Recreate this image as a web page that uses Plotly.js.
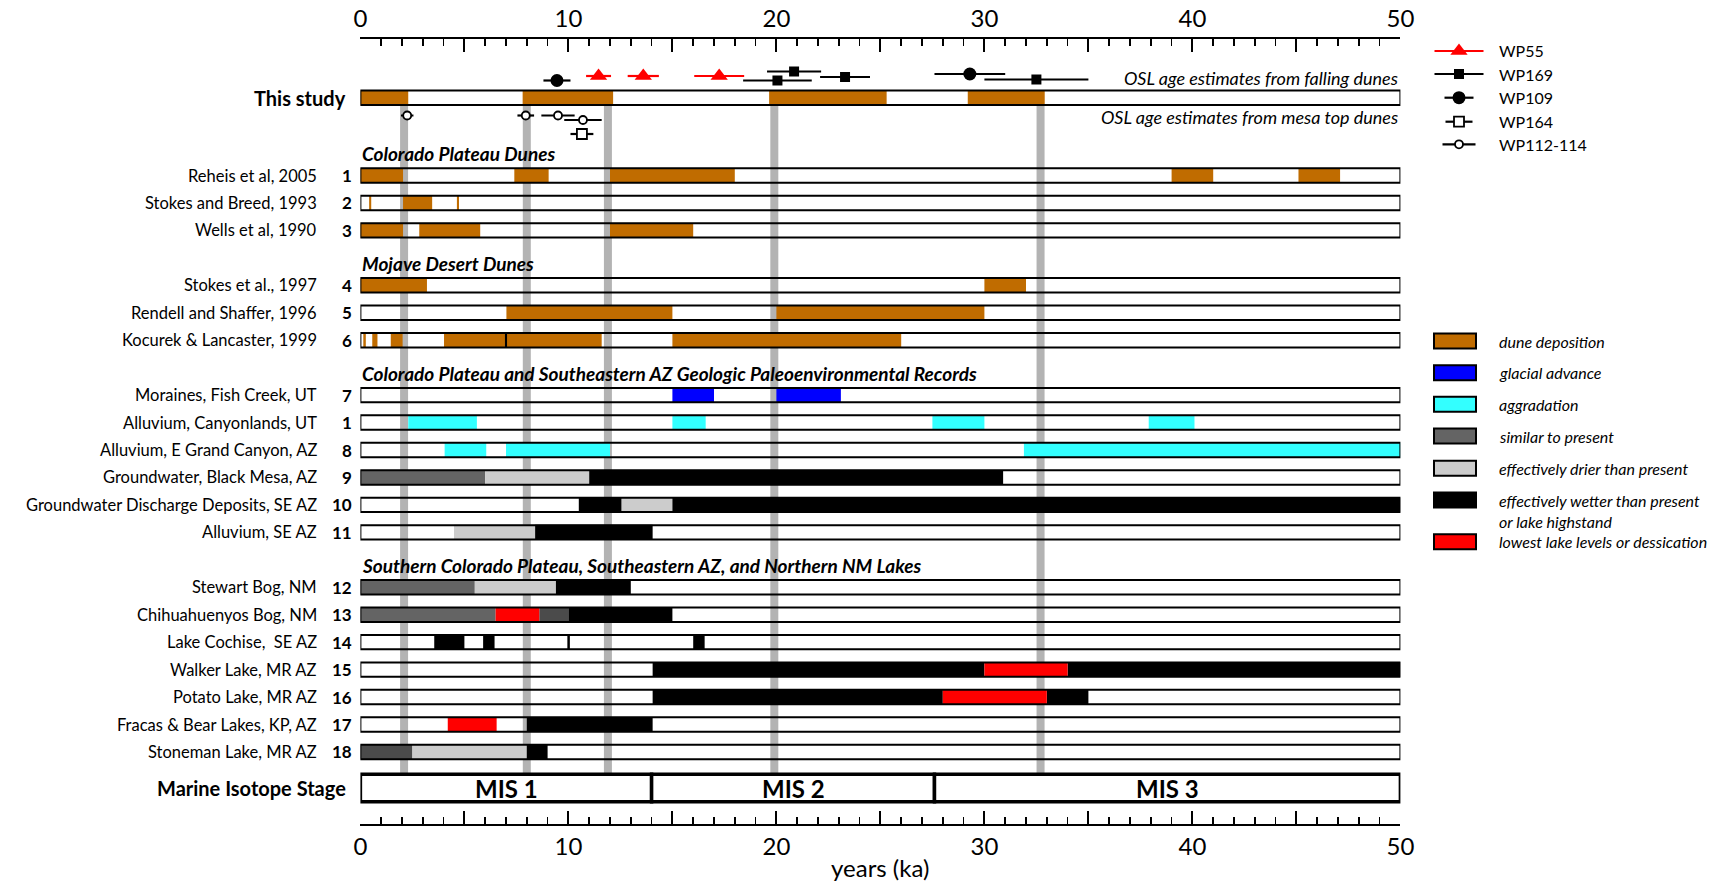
<!DOCTYPE html>
<html>
<head>
<meta charset="utf-8">
<script src="https://cdn.plot.ly/plotly-3.0.1.min.js"></script>
<style>
  html, body { margin: 0; padding: 0; background: #ffffff; }
  #chart { width: 1711px; height: 881px; }
</style>
</head>
<body>
<div id="chart"></div>
<script>
// ---------------- records, grouped by region ----------------
const groupTitles = [
  'Colorado Plateau Dunes',
  'Mojave Desert Dunes',
  'Colorado Plateau and Southeastern AZ Geologic Paleoenvironmental Records',
  'Southern Colorado Plateau, Southeastern AZ, and Northern NM Lakes'
];
const groupSizes = [3, 3, 6, 7];

const recordNames = [
  'Reheis et al, 2005', 'Stokes and Breed, 1993', 'Wells et al, 1990',
  'Stokes et al., 1997', 'Rendell and Shaffer, 1996', 'Kocurek & Lancaster, 1999',
  'Moraines, Fish Creek, UT', 'Alluvium, Canyonlands, UT', 'Alluvium, E Grand Canyon, AZ',
  'Groundwater, Black Mesa, AZ', 'Groundwater Discharge Deposits, SE AZ', 'Alluvium, SE AZ',
  'Stewart Bog, NM', 'Chihuahuenyos Bog, NM', 'Lake Cochise,  SE AZ', 'Walker Lake, MR AZ',
  'Potato Lake, MR AZ', 'Fracas & Bear Lakes, KP, AZ', 'Stoneman Lake, MR AZ'
];
const recordRefs = ['1', '2', '3', '4', '5', '6', '7', '1', '8', '9', '10', '11',
                    '12', '13', '14', '15', '16', '17', '18'];

// dated intervals: [start ka, end ka, kind]
const reheis2005 = [[0, 2.05, 'dune'], [7.4, 9.05, 'dune'], [12, 18, 'dune'], [39, 41, 'dune'], [45.1, 47.1, 'dune']];
const stokesBreed1993 = [[0.42, 0.52, 'dune'], [2.05, 3.45, 'dune'], [4.64, 4.74, 'dune']];
const wells1990 = [[0, 2.05, 'dune'], [2.83, 5.76, 'dune'], [12, 16, 'dune']];
const stokes1997 = [[0, 3.2, 'dune'], [30, 32, 'dune']];
const rendellShaffer1996 = [[7.02, 15, 'dune'], [20, 30, 'dune']];
const kocurekLancaster1999 = [[0.14, 0.26, 'dune'], [0.57, 0.82, 'dune'], [1.46, 2.03, 'dune'], [4.02, 11.6, 'dune'], [6.95, 7.05, 'contact'], [15, 26, 'dune']];
const fishCreekMoraines = [[15, 17, 'glacial'], [20, 23.1, 'glacial']];
const canyonlandsAlluvium = [[2.3, 5.6, 'aggradation'], [15, 16.6, 'aggradation'], [27.5, 30, 'aggradation'], [37.9, 40.1, 'aggradation']];
const grandCanyonAlluvium = [[4.05, 6.05, 'aggradation'], [7, 12, 'aggradation'], [31.9, 50, 'aggradation']];
const blackMesaGroundwater = [[0, 6, 'similar'], [6, 11, 'drier'], [11, 30.9, 'wetter']];
const seAzDischarge = [[10.5, 12.55, 'wetter'], [12.55, 15, 'drier'], [15, 50, 'wetter']];
const seAzAlluvium = [[4.5, 8.4, 'drier'], [8.4, 14.05, 'wetter']];
const stewartBog = [[0, 5.5, 'similar'], [5.5, 9.4, 'drier'], [9.4, 13, 'wetter']];
const chihuahuenyosBog = [[0, 6.5, 'similar'], [6.5, 8.6, 'lowest'], [8.6, 10, 'similarDark'], [10, 15, 'wetter']];
const lakeCochise = [[3.55, 5, 'wetter'], [5.9, 6.45, 'wetter'], [9.95, 10.07, 'wetter'], [16, 16.55, 'wetter']];
const walkerLake = [[14.05, 30, 'wetter'], [30, 34, 'lowest'], [34, 50, 'wetter']];
const potatoLake = [[14.05, 28, 'wetter'], [28, 33, 'lowest'], [33, 35, 'wetter']];
const fracasBearLakes = [[4.2, 6.55, 'lowest'], [8, 14.05, 'wetter']];
const stonemanLake = [[0, 2.5, 'similarDark'], [2.5, 8, 'drier'], [8, 9, 'wetter']];

const recordIntervals = [
  reheis2005, stokesBreed1993, wells1990,
  stokes1997, rendellShaffer1996, kocurekLancaster1999,
  fishCreekMoraines, canyonlandsAlluvium, grandCanyonAlluvium,
  blackMesaGroundwater, seAzDischarge, seAzAlluvium,
  stewartBog, chihuahuenyosBog, lakeCochise, walkerLake,
  potatoLake, fracasBearLakes, stonemanLake
];

// dune deposition from this study (ka)
const thisStudyDunes = [[0, 2.3], [7.8, 12.15], [19.65, 25.3], [29.2, 32.9]];
// episode markers carried down through all records (ka)
const episodeAges = [2.1, 8.0, 11.9, 19.9, 32.7];

// marine isotope stages
const misLabels = ['MIS 1', 'MIS 2', 'MIS 3'];
const misBounds = [0, 14, 27.6, 50];

// OSL ages and 1-sigma errors (ka)
const wp55Age = [11.45, 13.6, 17.25];
const wp55Err = [0.6, 0.75, 1.2];
const wp169Age = [20.85, 20.05, 23.3, 32.5];
const wp169Err = [1.3, 1.65, 1.2, 2.5];
const wp109Age = [9.45, 29.3];
const wp109Err = [0.65, 1.7];
const wp164Age = [10.65];
const wp164Err = [0.55];
const wp112Age = [2.25, 7.95, 9.5, 10.7];
const wp112Err = [0.3, 0.4, 0.8, 0.9];

// ---------------- page geometry ----------------
const W = 1711, H = 881;
const FONT = 'Lato, "Open Sans", sans-serif';
const X0PX = 360.4, X1PX = 1400.4;          // pixel span of the 0–50 ka scale
const ROW0PX = 175.5, PITCH = 27.45;        // first record row and row pitch (px)
const toSlot = p => (p - ROW0PX) / PITCH;
const pw = v => v / W;                      // pixel -> paper (horizontal)
const ph = v => 1 - v / H;                  // pixel -> paper (vertical)

// vertical lanes (px) that keep overlapping OSL ages apart
const wp55Lane = [76, 76, 76];
const wp169Lane = [71.5, 80.5, 77, 79.5];
const wp109Lane = [80.5, 74];
const wp164Lane = [134];
const wp112Lane = [115.5, 115.5, 115.5, 120];

const kinds = {
  dune:        { color: '#c06c00', label: 'dune deposition' },
  glacial:     { color: '#0000ff', label: 'glacial advance' },
  aggradation: { color: '#33ffff', label: 'aggradation' },
  similar:     { color: '#646464', label: 'similar to present' },
  similarDark: { color: '#4b4b4b' },
  drier:       { color: '#cccccc', label: 'effectively drier than present' },
  wetter:      { color: '#000000', label: 'effectively wetter than present<br>or lake highstand' },
  lowest:      { color: '#ff0000', label: 'lowest lake levels or dessication' },
  contact:     { color: '#000000' }
};
const legendKinds = ['dune', 'glacial', 'aggradation', 'similar', 'drier', 'wetter', 'lowest'];
const legendKindY = [341, 372.7, 404.3, 436, 468.3, 500, 541.7];

// ---------------- row positions ----------------
const recordSlot = [], headerSlot = [];
let s = 0;
groupSizes.forEach((n, g) => {
  if (g > 0) s += 1;
  headerSlot.push(s - 0.8);
  for (let i = 0; i < n; i++) { recordSlot.push(s); s += 1; }
});
const thisStudySlot = toSlot(97.7);
const misSlot = toSlot(788);
const ROW_H = 14.4 / PITCH;
const MIS_H = 27.5 / PITCH;

// ---------------- traces ----------------
const traces = [];
const barKinds = ['dune', 'glacial', 'aggradation', 'similar', 'similarDark', 'drier', 'wetter', 'lowest', 'contact'];
barKinds.forEach(k => {
  const y = [], base = [], len = [];
  if (k === 'dune') {
    thisStudyDunes.forEach(([a, b]) => { y.push(thisStudySlot); base.push(a); len.push(b - a); });
  }
  recordIntervals.forEach((iv, i) => iv.forEach(([a, b, kind]) => {
    if (kind === k) { y.push(recordSlot[i]); base.push(a); len.push(b - a); }
  }));
  traces.push({
    type: 'bar', orientation: 'h', y: y, x: len, base: base, width: ROW_H + 0.6 / PITCH,
    marker: { color: kinds[k].color, line: { width: 0 } },
    showlegend: false, hoverinfo: 'skip'
  });
});

// record outlines
const allSlots = [thisStudySlot].concat(recordSlot);
traces.push({
  type: 'bar', orientation: 'h', y: allSlots, base: allSlots.map(() => misBounds[0]),
  x: allSlots.map(() => misBounds[3] - misBounds[0]), width: ROW_H,
  marker: { color: 'rgba(0,0,0,0)', line: { color: '#000', width: 2 } },
  showlegend: false, hoverinfo: 'skip'
});

// marine isotope stage bar
traces.push({
  type: 'bar', orientation: 'h', y: misLabels.map(() => misSlot),
  base: misBounds.slice(0, 3), x: misBounds.slice(1).map((b, i) => b - misBounds[i]),
  width: MIS_H,
  marker: { color: '#ffffff', line: { color: '#000', width: 3.5 } },
  showlegend: false, hoverinfo: 'skip'
});

// OSL ages
const oslStyles = [
  { name: 'WP55',      age: wp55Age,  err: wp55Err,  lane: wp55Lane,  color: '#ff0000', symbol: 'triangle-up', size: 15, fill: '#ff0000', lw: 0,   half: 24.5 },
  { name: 'WP169',     age: wp169Age, err: wp169Err, lane: wp169Lane, color: '#000000', symbol: 'square',      size: 10, fill: '#000000', lw: 0,   half: 24.5 },
  { name: 'WP109',     age: wp109Age, err: wp109Err, lane: wp109Lane, color: '#000000', symbol: 'circle',      size: 13, fill: '#000000', lw: 0,   half: 14.5 },
  { name: 'WP164',     age: wp164Age, err: wp164Err, lane: wp164Lane, color: '#000000', symbol: 'square',      size: 10, fill: '#ffffff', lw: 1.8, half: 13.5 },
  { name: 'WP112-114', age: wp112Age, err: wp112Err, lane: wp112Lane, color: '#000000', symbol: 'circle',      size: 8,  fill: '#ffffff', lw: 1.8, half: 16.5 }
];
const legendSampleX = 1459, legendTextX = 1497;
const legendSampleY = [51, 74, 97.7, 121.7, 144.3];

oslStyles.forEach((st, i) => {
  const marker = { symbol: st.symbol, size: st.size, color: st.fill, line: { color: st.color, width: st.lw } };
  traces.push({
    type: 'scatter', mode: 'markers', name: st.name,
    x: st.age, y: st.lane.map(toSlot),
    error_x: { type: 'data', array: st.err, symmetric: true, color: st.color, thickness: 2.2, width: 0 },
    marker: marker, showlegend: false, hoverinfo: 'skip', cliponaxis: false
  });
  // key sample
  traces.push({
    type: 'scatter', mode: 'markers', xaxis: 'x3', yaxis: 'y3',
    x: [legendSampleX], y: [legendSampleY[i]],
    error_x: { type: 'data', array: [st.half], symmetric: true, color: st.color, thickness: 2.2, width: 0 },
    marker: marker, showlegend: false, hoverinfo: 'skip', cliponaxis: false
  });
});

// keeps the upper scale in place
traces.push({ type: 'scatter', x: [], y: [], xaxis: 'x2', yaxis: 'y', showlegend: false, hoverinfo: 'skip' });

// ---------------- shapes ----------------
const shapes = episodeAges.map(a => ({
  type: 'line', xref: 'x', yref: 'y', x0: a, x1: a,
  y0: toSlot(106), y1: toSlot(773),
  line: { color: '#b3b3b3', width: 8 }, layer: 'below'
}));
legendKinds.forEach((k, i) => {
  shapes.push({
    type: 'rect', xref: 'paper', yref: 'paper',
    x0: pw(1434), x1: pw(1476), y0: ph(legendKindY[i] - 7.5), y1: ph(legendKindY[i] + 7.5),
    fillcolor: kinds[k].color, line: { color: '#000', width: 2 }
  });
});

// ---------------- text ----------------
const annotations = [];
const txt = o => annotations.push(Object.assign({ showarrow: false }, o, {
  font: Object.assign({ family: FONT, size: 16.5, color: '#000' }, o.font || {})
}));

recordNames.forEach((n, i) => {
  txt({ text: n, xref: 'paper', yref: 'y', x: pw(319), y: recordSlot[i], xanchor: 'right', yanchor: 'middle' });
  txt({ text: '<b>' + recordRefs[i] + '</b>', xref: 'paper', yref: 'y', x: pw(354), y: recordSlot[i], xanchor: 'right', yanchor: 'middle', font: { size: 17 } });
});
groupTitles.forEach((t, g) => {
  txt({ text: '<b><i>' + t + '</i></b>', xref: 'x', yref: 'y', x: 0, y: headerSlot[g], xanchor: 'left', yanchor: 'middle', font: { size: 19 } });
});
txt({ text: '<b>This study</b>', xref: 'paper', yref: 'y', x: pw(348), y: thisStudySlot, xanchor: 'right', yanchor: 'middle', font: { size: 20 } });
txt({ text: '<b>Marine Isotope Stage</b>', xref: 'paper', yref: 'y', x: pw(348), y: misSlot, xanchor: 'right', yanchor: 'middle', font: { size: 20 } });
txt({ text: '<i>OSL age estimates from falling dunes</i>', xref: 'x', yref: 'y', x: 50, y: toSlot(78), xanchor: 'right', yanchor: 'middle', font: { size: 18 } });
txt({ text: '<i>OSL age estimates from mesa top dunes</i>', xref: 'x', yref: 'y', x: 50, y: toSlot(117), xanchor: 'right', yanchor: 'middle', font: { size: 18 } });

misLabels.forEach((m, i) => {
  txt({ text: '<b>' + m + '</b>', xref: 'x', yref: 'y', x: (misBounds[i] + misBounds[i + 1]) / 2, y: misSlot, xanchor: 'center', yanchor: 'middle', font: { size: 24 } });
});
txt({ text: 'years (ka)', xref: 'x', yref: 'paper', x: 25, y: ph(867), xanchor: 'center', yanchor: 'middle', font: { size: 24 } });

oslStyles.forEach((st, i) => {
  txt({ text: st.name, xref: 'paper', yref: 'paper', x: pw(legendTextX), y: ph(legendSampleY[i]), xanchor: 'left', yanchor: 'middle', font: { size: 16 } });
});
legendKinds.forEach((k, i) => {
  const two = kinds[k].label.indexOf('<br>') >= 0;
  txt({
    text: '<i>' + kinds[k].label.replace('<br>', '</i><br><i>') + '</i>', xref: 'paper', yref: 'paper',
    x: pw(legendTextX), y: ph(two ? legendKindY[i] - 11 : legendKindY[i]),
    xanchor: 'left', yanchor: two ? 'top' : 'middle', align: 'left', font: { size: 16 }
  });
});

// ---------------- axes ----------------
const scale = {
  range: [0, 50], autorange: false, domain: [pw(X0PX), pw(X1PX)], anchor: 'free',
  showline: true, linecolor: '#000', linewidth: 2.4, showgrid: false, zeroline: false,
  ticks: 'inside', ticklen: 13, tickwidth: 2, tickcolor: '#000',
  tickmode: 'linear', tick0: 0, dtick: 5, ticklabelstep: 2,
  minor: { tickmode: 'linear', tick0: 0, dtick: 1, ticks: 'inside', ticklen: 7, tickwidth: 1.6, tickcolor: '#000', showgrid: false },
  tickfont: { family: FONT, size: 24, color: '#000' }, automargin: false, fixedrange: true
};

const layout = {
  width: W, height: H,
  margin: { l: 0, r: 0, t: 0, b: 0, pad: 0 },
  paper_bgcolor: '#ffffff', plot_bgcolor: 'rgba(0,0,0,0)',
  barmode: 'overlay', showlegend: false, hovermode: false,
  xaxis: Object.assign({}, scale, { side: 'bottom', position: ph(825) }),
  xaxis2: Object.assign({}, scale, { side: 'top', position: ph(38), overlaying: 'x', matches: 'x' }),
  yaxis: {
    domain: [0, 1], range: [toSlot(H), toSlot(0)], autorange: false,
    visible: false, showgrid: false, zeroline: false, fixedrange: true
  },
  xaxis3: { domain: [0, 1], range: [0, W], autorange: false, visible: false, anchor: 'y3', fixedrange: true },
  yaxis3: { domain: [0, 1], range: [H, 0], autorange: false, visible: false, anchor: 'x3', fixedrange: true },
  shapes: shapes,
  annotations: annotations
};

Plotly.newPlot('chart', traces, layout, { staticPlot: true, displayModeBar: false });
</script>
</body>
</html>
